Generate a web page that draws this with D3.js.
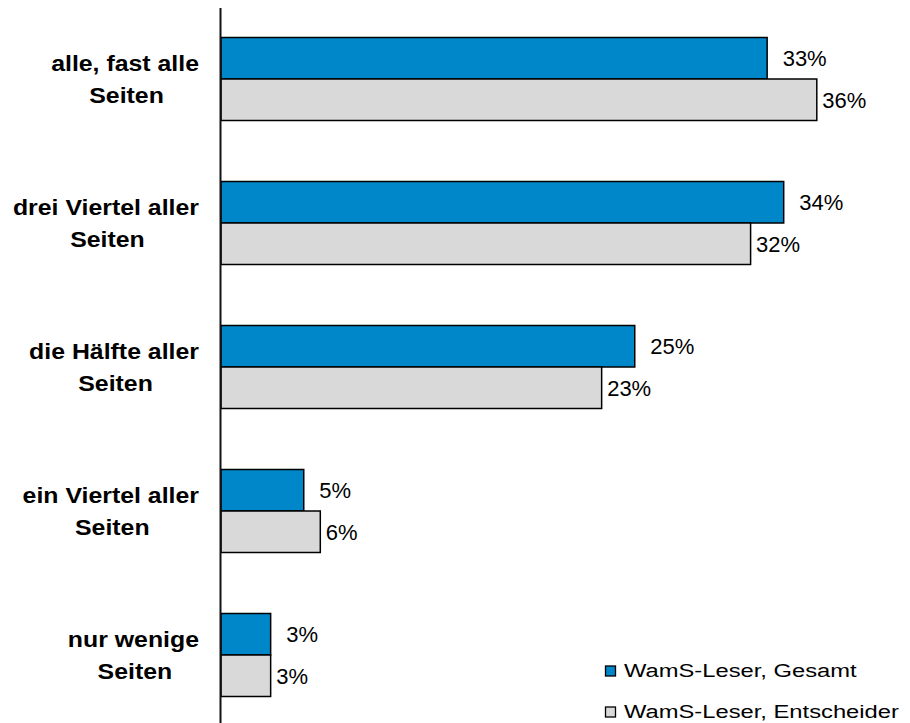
<!DOCTYPE html>
<html>
<head>
<meta charset="utf-8">
<script src="https://cdn.jsdelivr.net/npm/d3@7"></script>
<style>
  html, body { margin: 0; padding: 0; background: #fff; }
  svg { display: block; }
</style>
</head>
<body>
<svg id="chart" width="910" height="723"></svg>
<script>
const categories = [
  ["alle, fast alle", "Seiten"],
  ["drei Viertel aller", "Seiten"],
  ["die Hälfte aller", "Seiten"],
  ["ein Viertel aller", "Seiten"],
  ["nur wenige", "Seiten"]
];
const seriesNames = ["WamS-Leser, Gesamt", "WamS-Leser, Entscheider"];
const gesamt = [33, 34, 25, 5, 3];
const entscheider = [36, 32, 23, 6, 3];
const seriesValues = [gesamt, entscheider];
const seriesColors = ["#0087C9", "#D9D9D9"];

const FONT = "'Liberation Sans', Arial, Helvetica, sans-serif";
const svg = d3.select("#chart");

const catKeys = categories.map(c => c.join(" "));
const y = d3.scaleBand().domain(catKeys).range([7, 727]).paddingInner(0).paddingOuter(0);
const ySub = d3.scaleBand().domain(seriesNames).range([0, y.bandwidth()]).paddingInner(0).paddingOuter(0.735);
const x = d3.scaleLinear().domain([0, 40]).range([221, 221 + 16.55 * 40]);

// bars
seriesNames.forEach((s, si) => {
  const g = svg.append("g");
  g.selectAll("rect").data(seriesValues[si]).join("rect")
    .attr("x", x(0))
    .attr("y", (d, i) => y(catKeys[i]) + ySub(s))
    .attr("width", d => x(d) - x(0))
    .attr("height", ySub.bandwidth())
    .attr("fill", seriesColors[si])
    .attr("stroke", "#000")
    .attr("stroke-width", 1.5);
  g.selectAll("text").data(seriesValues[si]).join("text")
    .attr("x", d => x(d) + (si === 0 ? 15.5 : 5.5))
    .attr("y", (d, i) => y(catKeys[i]) + ySub(s) + ySub.bandwidth() / 2 + 8)
    .attr("font-family", FONT)
    .attr("font-size", 22)
    .attr("fill", "#000")
    .text(d => d + "%");
});

// axis line
const axis = d3.axisLeft(y).tickSize(0).tickFormat("");
const axG = svg.append("g").attr("transform", `translate(${x(0) - 0.5},0)`).call(axis);
axG.select(".domain").attr("stroke", "#111").attr("stroke-width", 2)
  .attr("d", "M0,8V723");

// category labels (two lines, block right-aligned, lines centered)
const SX = 1.13;
categories.forEach((lines, i) => {
  const cy = y(catKeys[i]) + y.bandwidth() / 2;
  const g1 = svg.append("g").attr("transform", `translate(199,${cy - 8}) scale(${SX},1)`);
  const t1 = g1.append("text")
    .attr("text-anchor", "end")
    .attr("font-family", FONT).attr("font-weight", "bold").attr("font-size", 22)
    .attr("fill", "#000").text(lines[0]);
  const w1 = t1.node().getComputedTextLength() * SX;
  const centerX = 199 - w1 / 2 + 1.5;
  const g2 = svg.append("g").attr("transform", `translate(${centerX},${cy + 24}) scale(${SX},1)`);
  g2.append("text")
    .attr("text-anchor", "middle")
    .attr("font-family", FONT).attr("font-weight", "bold").attr("font-size", 22)
    .attr("fill", "#000").text(lines[1]);
});

// legend
const legendY = [666, 707];
seriesNames.forEach((s, si) => {
  svg.append("rect")
    .attr("x", 605.5).attr("y", legendY[si])
    .attr("width", 10).attr("height", 10)
    .attr("fill", seriesColors[si]).attr("stroke", "#000").attr("stroke-width", 1.3);
  const g = svg.append("g").attr("transform", `translate(624,${legendY[si] + 11}) scale(1.32,1)`);
  g.append("text")
    .attr("font-family", FONT).attr("font-size", 18).attr("fill", "#000")
    .text(s);
});
</script>
</body>
</html>
